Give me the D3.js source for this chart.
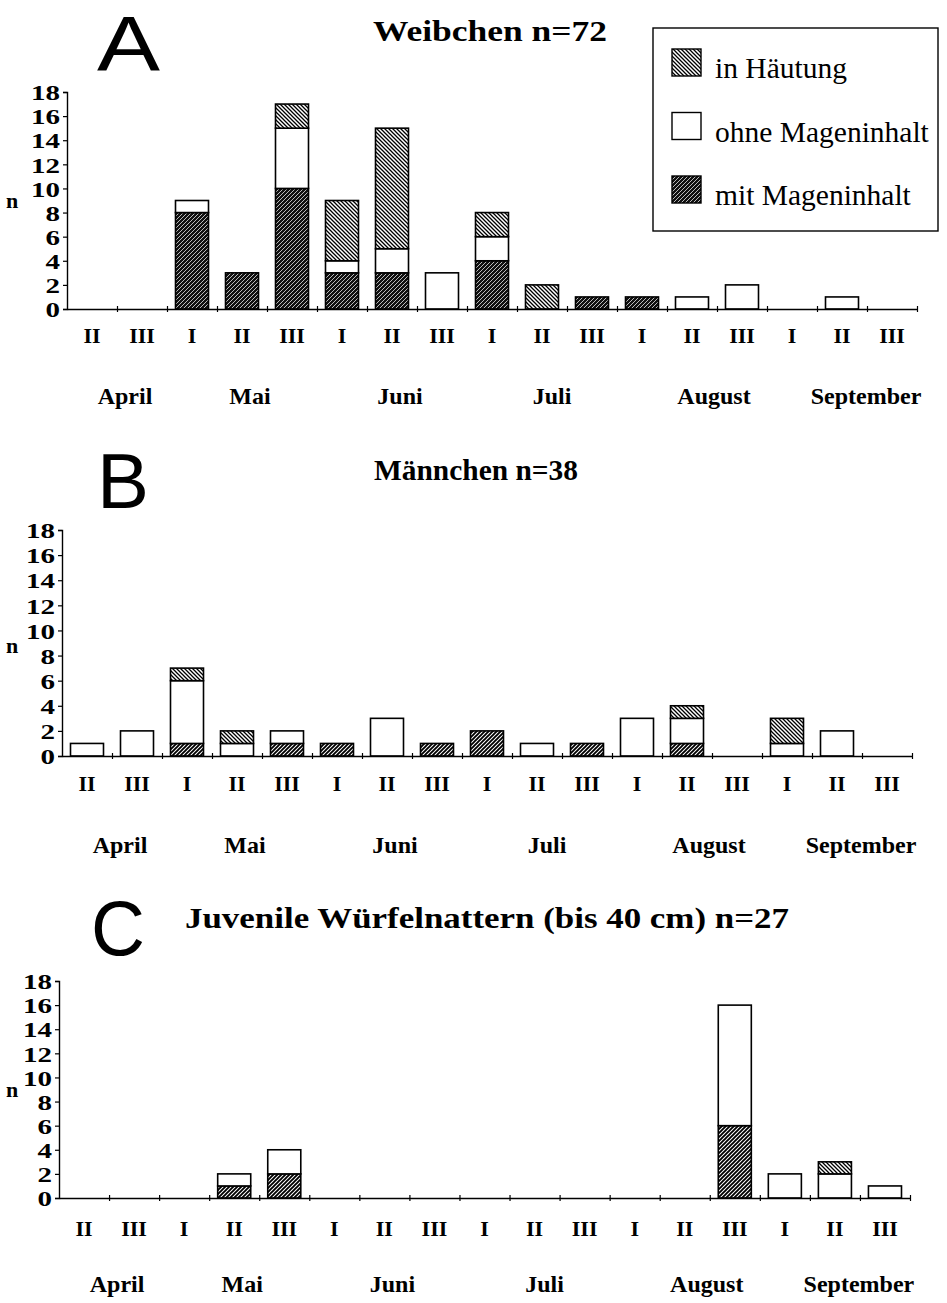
<!DOCTYPE html>
<html>
<head>
<meta charset="utf-8">
<script src="https://cdn.jsdelivr.net/npm/d3@7"></script>
<style>
body { margin: 0; background: #fff; }
text { font-family: "Liberation Serif", "Times New Roman", serif; fill: #000; }
</style>
</head>
<body>
<script>
var w = 947;
var h = 1303;

// Data
var dekaden = ["II","III","I","II","III","I","II","III","I","II","III","I","II","III","I","II","III"];
var monate = ["April","Mai","Juni","Juli","August","September"];
var monatStart = [0, 2, 5, 8, 11, 14];
var monatLaenge = [2, 3, 3, 3, 3, 3];
var yTicks = [0, 2, 4, 6, 8, 10, 12, 14, 16, 18];
var legendeText = ["in Häutung", "ohne Mageninhalt", "mit Mageninhalt"];

// A: Weibchen n=72
var weibMit  = [0,0,8,3,10,3,3,0,4,0,1,1,0,0,0,0,0];
var weibOhne = [0,0,1,0,5,1,2,3,2,0,0,0,1,2,0,1,0];
var weibHaut = [0,0,0,0,2,5,10,0,2,2,0,0,0,0,0,0,0];

// B: Männchen n=38
var mannMit  = [0,0,1,0,1,1,0,1,2,0,1,0,1,0,0,0,0];
var mannOhne = [1,2,5,1,1,0,3,0,0,1,0,3,2,0,1,2,0];
var mannHaut = [0,0,1,1,0,0,0,0,0,0,0,0,1,0,2,0,0];

// C: Juvenile n=27
var juvMit  = [0,0,0,1,2,0,0,0,0,0,0,0,0,6,0,0,0];
var juvOhne = [0,0,0,1,2,0,0,0,0,0,0,0,0,10,2,2,1];
var juvHaut = [0,0,0,0,0,0,0,0,0,0,0,0,0,0,0,1,0];

var svg = d3.select("body")
            .append("svg")
            .attr("width", w)
            .attr("height", h)
            .style("background", "#fff");

// hatch patterns
var defs = svg.append("defs");
function hatch(id, bg, fg, sw, dir) {
    var p = defs.append("pattern")
        .attr("id", id)
        .attr("patternUnits", "userSpaceOnUse")
        .attr("width", 4).attr("height", 4);
    p.append("rect").attr("width", 4).attr("height", 4).attr("fill", bg);
    p.append("path")
        .attr("d", dir == "back"
            ? "M-1,-1L5,5M-1,3L1,5M3,-1L5,1"
            : "M-1,5L5,-1M-1,1L1,-1M3,5L5,3")
        .attr("stroke", fg).attr("stroke-width", sw);
}
hatch("haut", "#fff", "#000", 1.3, "back");
hatch("mitDunkel", "#111", "#bbb", 1.0, "fwd");
hatch("mitHell", "#fff", "#000", 1.9, "fwd");

var panels = [
    {letter: "A", title: "Weibchen n=72", mit: weibMit, ohne: weibOhne, haut: weibHaut,
     x0: 67, x1: 917, y0: 309, y18: 92, letterX: 97, letterY: 71, letterW: 63,
     titleX: 490, titleY: 41, titleW: 234,
     numY: 343, monY: 404, nY: 208, mitFill: "url(#mitDunkel)"},
    {letter: "B", title: "Männchen n=38", mit: mannMit, ohne: mannOhne, haut: mannHaut,
     x0: 62, x1: 912, y0: 756, y18: 530, letterX: 97, letterY: 508, letterW: 52,
     titleX: 476, titleY: 480, titleW: 204,
     numY: 791, monY: 853, nY: 653, mitFill: "url(#mitHell)"},
    {letter: "C", title: "Juvenile Würfelnattern (bis 40 cm) n=27", mit: juvMit, ohne: juvOhne, haut: juvHaut,
     x0: 59, x1: 910, y0: 1198, y18: 981, letterX: 91, letterY: 955, letterW: 54,
     titleX: 487, titleY: 928, titleW: 604,
     numY: 1236, monY: 1292, nY: 1097, mitFill: "url(#mitHell)"}
];

var monatVersatz = [8, 8, 8, 10, 22, 24];

panels.forEach(function(p) {
    var g = svg.append("g");

    var rows = dekaden.map(function(d, i) {
        return {i: i, mit: p.mit[i], ohne: p.ohne[i], haut: p.haut[i]};
    });
    var stack = d3.stack().keys(["mit", "ohne", "haut"])(rows);

    var xScale = d3.scaleBand()
        .domain(d3.range(dekaden.length))
        .range([p.x0, p.x1])
        .paddingInner(0.34)
        .paddingOuter(0.17);
    var xLin = d3.scaleLinear().domain([0, dekaden.length]).range([p.x0, p.x1]);
    var yScale = d3.scaleLinear().domain([0, 18]).range([p.y0, p.y18]);

    var fills = {mit: p.mitFill, ohne: "#fff", haut: "url(#haut)"};

    g.selectAll("g.layer")
        .data(stack)
        .enter()
        .append("g")
        .attr("class", "layer")
        .attr("fill", function(s) { return fills[s.key]; })
        .selectAll("rect")
        .data(function(s) { return s.filter(function(d) { return d[1] > d[0]; }); })
        .enter()
        .append("rect")
        .attr("x", function(d) { return xScale(d.data.i); })
        .attr("width", xScale.bandwidth())
        .attr("y", function(d) { return yScale(d[1]); })
        .attr("height", function(d) { return yScale(d[0]) - yScale(d[1]); })
        .attr("stroke", "#000")
        .attr("stroke-width", 1.6);

    // y axis
    var yAxis = d3.axisLeft(yScale).tickValues(yTicks).tickSize(4).tickPadding(3);
    var ya = g.append("g")
        .attr("transform", "translate(" + p.x0 + ",0)")
        .call(yAxis);
    ya.select(".domain").attr("stroke-width", 1.4);
    ya.selectAll("line").attr("stroke-width", 1.2);
    ya.selectAll("text")
        .attr("font-size", "22px")
        .attr("font-weight", "bold")
        .attr("dy", "0.35em")
        .attr("textLength", function(d) { return String(d).length * 14.5; })
        .attr("lengthAdjust", "spacingAndGlyphs");

    // x axis with ticks crossing the line
    var xAxis = d3.axisBottom(xLin)
        .tickValues(d3.range(1, dekaden.length + 1))
        .tickFormat("")
        .tickSizeOuter(0);
    var xa = g.append("g")
        .attr("transform", "translate(0," + p.y0 + ")")
        .call(xAxis);
    xa.select(".domain").attr("stroke-width", 1.4);
    xa.selectAll(".tick line").attr("y1", -3).attr("y2", 3).attr("stroke-width", 1.2);

    // dekaden labels
    g.selectAll("text.dek")
        .data(dekaden)
        .enter()
        .append("text")
        .attr("class", "dek")
        .attr("x", function(d, i) { return xScale(i) + xScale.bandwidth() / 2; })
        .attr("y", p.numY)
        .attr("text-anchor", "middle")
        .attr("font-size", "22px")
        .attr("font-weight", "bold")
        .text(function(d) { return d; });

    // month labels
    g.selectAll("text.mon")
        .data(monate)
        .enter()
        .append("text")
        .attr("class", "mon")
        .attr("x", function(d, i) { return xLin(monatStart[i] + monatLaenge[i] / 2) + monatVersatz[i]; })
        .attr("y", p.monY)
        .attr("text-anchor", "middle")
        .attr("font-size", "24px")
        .attr("font-weight", "bold")
        .text(function(d) { return d; });

    // n
    g.append("text")
        .attr("x", 12).attr("y", p.nY)
        .attr("text-anchor", "middle")
        .attr("font-size", "22px")
        .attr("font-weight", "bold")
        .text("n");

    // big letter
    g.append("text")
        .attr("x", p.letterX).attr("y", p.letterY)
        .style("font-family", "'Liberation Sans', Arial, sans-serif")
        .attr("font-size", "78px")
        .attr("textLength", p.letterW)
        .attr("lengthAdjust", "spacingAndGlyphs")
        .text(p.letter);

    // title
    g.append("text")
        .attr("x", p.titleX).attr("y", p.titleY)
        .attr("text-anchor", "middle")
        .attr("font-size", "30px")
        .attr("font-weight", "bold")
        .attr("textLength", p.titleW)
        .attr("lengthAdjust", "spacingAndGlyphs")
        .text(p.title);
});

// legend
var leg = svg.append("g");
leg.append("rect")
    .attr("x", 653).attr("y", 28)
    .attr("width", 285).attr("height", 203)
    .attr("fill", "#fff")
    .attr("stroke", "#000")
    .attr("stroke-width", 1.4);
var legFill = ["url(#haut)", "#fff", "url(#mitDunkel)"];
var legY = d3.scalePoint().domain(legendeText).range([49, 176]);
leg.selectAll("rect.sw")
    .data(legendeText)
    .enter()
    .append("rect")
    .attr("class", "sw")
    .attr("x", 672)
    .attr("y", function(d) { return legY(d); })
    .attr("width", 29).attr("height", 27)
    .attr("fill", function(d, i) { return legFill[i]; })
    .attr("stroke", "#000").attr("stroke-width", 1.4);
leg.selectAll("text")
    .data(legendeText)
    .enter()
    .append("text")
    .attr("x", 715)
    .attr("y", function(d) { return legY(d) + 29; })
    .attr("font-size", "29.5px")
    .text(function(d) { return d; });
</script>
</body>
</html>
